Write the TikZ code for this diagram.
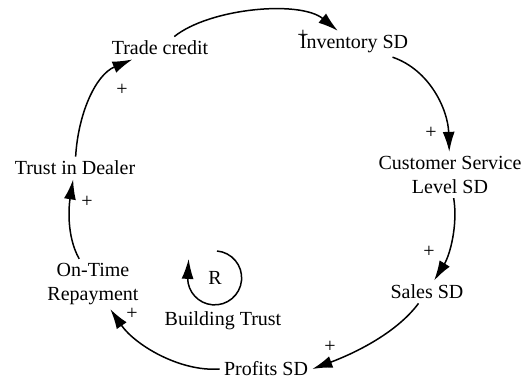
\documentclass[tikz,border=0pt]{standalone}
\usepackage{fontspec}
\setmainfont{Liberation Serif}
\usetikzlibrary{arrows.meta}
\tikzset{
  var/.style={font=\fontsize{10}{12}\selectfont, align=center, inner sep=2pt},
  sgn/.style={font=\fontsize{10}{12}\selectfont, inner sep=0pt},
  link/.style={line width=0.75pt, -{Latex[length=10pt,width=6pt]}},
}
\begin{document}
\begin{tikzpicture}[x=0.5pt,y=0.5pt]
\useasboundingbox (0,0) rectangle (526,-384);
\node[var] (tc) at (160,-48) {Trade credit};
\node[var] (inv) at (354,-44) {Inventory SD};
\node[var] (csl) at (450,-175) {Customer Service\\Level SD};
\node[var] (sales) at (427,-292) {Sales SD};
\node[var] (profits) at (266,-369) {Profits SD};
\node[var] (otr) at (93,-284) {On-Time\\Repayment};
\node[var] (trust) at (75,-168) {Trust in Dealer};
% links
\draw[link] (tc) .. controls (210,-8) and (300,0) .. (inv);
\draw[link] (inv) .. controls (430,-70) and (448,-110) .. (csl);
\draw[link] (csl) .. controls (458,-225) and (450,-255) .. (sales);
\draw[link] (sales) .. controls (395,-335) and (350,-355) .. (profits.east);
\draw[link] (profits.west) .. controls (180,-372) and (135,-345) .. (otr);
\draw[link] (otr) .. controls (66,-235) and (69,-205) .. (trust);
\draw[link] (trust) .. controls (78,-115) and (95,-75) .. (tc);
% polarities
\node[sgn] (p1) at (303,-36) {+};
\node[sgn] (p2) at (431,-133) {+};
\node[sgn] (p3) at (429,-252) {+};
\node[sgn] (p4) at (330,-347) {+};
\node[sgn] (p5) at (132,-314) {+};
\node[sgn] (p6) at (87,-202) {+};
\node[sgn] (p7) at (122,-90) {+};
% loop marker
\node[var] (R) at (215,-278) {R};
\draw[link] (217,-251) arc (85:-180:27) -- ++(1,19);
\node[var] (bt) at (223,-321) {Building Trust};
\end{tikzpicture}
\end{document}
